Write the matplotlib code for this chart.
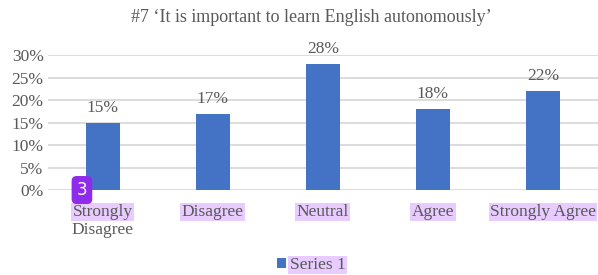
import matplotlib
matplotlib.use("Agg")
import matplotlib.pyplot as plt
from matplotlib.ticker import FuncFormatter

categories = ["Strongly\nDisagree", "Disagree", "Neutral", "Agree", "Strongly Agree"]
values = [0.15, 0.17, 0.28, 0.18, 0.22]
yticks = [0, 0.05, 0.10, 0.15, 0.20, 0.25, 0.30]
title = "#7 \u2018It is important to learn English autonomously\u2019"
series_name = "Series 1"

plt.rcParams['font.family'] = ['Liberation Serif', 'DejaVu Serif']
gray = "#595959"
hl = "#e8ccff"
fs = 12.5

fig = plt.figure(figsize=(5.98, 2.75), dpi=100)
ax = fig.add_axes([0.080, 0.309, 0.920, 0.491])

x = list(range(len(categories)))
bars = ax.bar(x, values, width=0.31, color="#4472C4", label=series_name, zorder=3)
for xi, v in zip(x, values):
    ax.annotate(f"{v*100:.0f}%", (xi, v), xytext=(0, 5), textcoords="offset points",
                ha="center", va="bottom", fontsize=fs, color=gray)

ax.set_xlim(-0.5, len(categories) - 0.5)
ax.set_ylim(0, 0.30)
ax.set_yticks(yticks)
ax.yaxis.set_major_formatter(FuncFormatter(lambda v, p: f"{v*100:.0f}%"))
ax.grid(axis="y", color="#d9d9d9", linewidth=1.3, zorder=0)
for s in ax.spines.values():
    s.set_visible(False)
ax.tick_params(axis="both", length=0, labelsize=fs, colors=gray)
ax.tick_params(axis="y", pad=3)

ax.set_xticks(x)
labels = [c.split("\n")[0] for c in categories]
ax.set_xticklabels(labels)
for t in ax.get_xticklabels():
    t.set_bbox(dict(facecolor=hl, edgecolor="none", pad=1))
ax.tick_params(axis="x", pad=10)
# second line of first label
for xi, c in zip(x, categories):
    if "\n" in c:
        ax.annotate(c.split("\n")[1], (xi, 0), xycoords=("data", "axes fraction"),
                    xytext=(0, -29), textcoords="offset points", ha="center", va="center",
                    fontsize=fs, color=gray)

fig.text(0.52, 0.935, title, ha="center", va="center", fontsize=13, color=gray)

leg = fig.legend(handles=[bars], labels=[series_name], loc="center", bbox_to_anchor=(0.52, 0.036),
                 frameon=False, fontsize=fs, handlelength=0.55, handleheight=0.55,
                 handletextpad=0.2, borderaxespad=0)
for t in leg.get_texts():
    t.set_color(gray)
    t.set_bbox(dict(facecolor=hl, edgecolor="none", pad=1))

fig.text(0.137, 0.309, "3", ha="center", va="center", fontsize=12, color="white",
         family="DejaVu Sans",
         bbox=dict(boxstyle="round,pad=0.3", facecolor="#8f2bea", edgecolor="none"))

fig.savefig("out.png", dpi=100)
